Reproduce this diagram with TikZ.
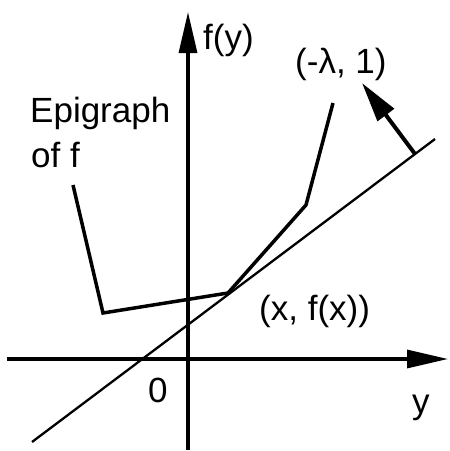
\documentclass[tikz,border=0pt]{standalone}
\usepackage{fontspec}
\setmainfont{Liberation Sans}
\usetikzlibrary{arrows.meta}

\begin{document}
\begin{tikzpicture}[x=1pt,y=-1pt,
  axis/.style={line width=3.2pt,-{Triangle[length=41pt,width=18pt]}},
  epiline/.style={line width=3.5pt,line join=miter},
  tangent/.style={line width=2.3pt},
  normal/.style={line width=4pt,-{Triangle[length=40pt,width=20pt]}},
  lbl/.style={font=\fontsize{35}{40}\selectfont,inner sep=0pt,anchor=base west}
]
\useasboundingbox (0,0) rectangle (450,451);

% axes
\coordinate (yb) at (188,450);
\coordinate (yt) at (188,12);
\coordinate (xl) at (7,359);
\coordinate (xr) at (448,359);
\draw[axis] (yb) -- (yt);
\draw[axis] (xl) -- (xr);

% epigraph boundary
\coordinate (e1) at (73,185);
\coordinate (e2) at (103,313);
\coordinate (e3) at (228,293);
\coordinate (e4) at (306,205);
\coordinate (e5) at (333,103);
\draw[epiline] (e1) -- (e2) -- (e3) -- (e4) -- (e5);

% supporting line and normal
\coordinate (t1) at (32,442);
\coordinate (t2) at (435,139);
\draw[tangent] (t1) -- (t2);
\coordinate (nb) at (415,154);
\coordinate (nt) at (362,83);
\draw[normal] (nb) -- (nt);

% labels
\node[lbl] (fy) at (203,49) {f(y)};
\node[lbl] (lam) at (295,73) {(-λ, 1)};
\node[lbl] (epi1) at (30,122) {Epigraph};
\node[lbl] (epi2) at (31,167) {of f};
\node[lbl] (pt) at (259,320) {(x, f(x))};
\node[lbl] (zero) at (148,402) {0};
\node[lbl] (ylab) at (412,413) {y};
\end{tikzpicture}
\end{document}
